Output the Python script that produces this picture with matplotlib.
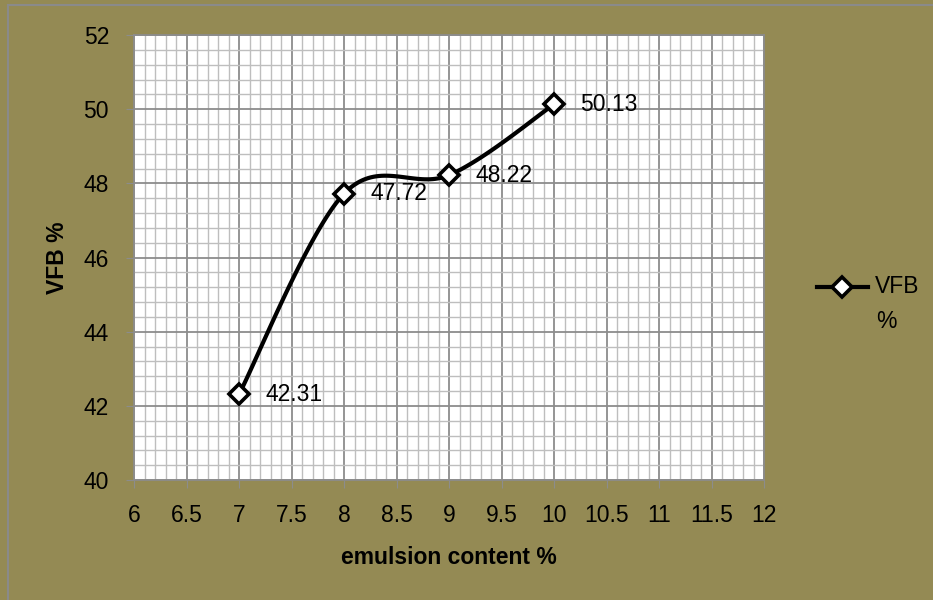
import numpy as np
import matplotlib.pyplot as plt
from matplotlib.patches import Rectangle
from matplotlib.lines import Line2D
from matplotlib.ticker import MultipleLocator, FuncFormatter

# data
emulsion = [7, 8, 9, 10]
vfb = [42.31, 47.72, 48.22, 50.13]
labels = ['42.31', '47.72', '48.22', '50.13']
xticks = [6, 6.5, 7, 7.5, 8, 8.5, 9, 9.5, 10, 10.5, 11, 11.5, 12]
yticks = [40, 42, 44, 46, 48, 50, 52]

bg = '#948A54'
fs = 16.5
plt.rcParams['font.family'] = ['Liberation Sans', 'DejaVu Sans']

fig = plt.figure(figsize=(9.33, 6), dpi=100)
fig.patch.set_facecolor(bg)
# chart frame (only left/top edge visible in the picture)
fig.patches.append(Rectangle((8 / 933, -0.1), 1.2, (1 - 5 / 600) + 0.1,
                             transform=fig.transFigure, facecolor='none',
                             edgecolor='#8a8a8a', linewidth=1.5))

ax = fig.add_axes([134 / 933, 0.2, (764 - 134) / 933, (480 - 35) / 600])
ax.set_facecolor('white')
ax.set_xlim(6, 12)
ax.set_ylim(40, 52)
ax.set_xticks(xticks)
ax.set_yticks(yticks)
ax.xaxis.set_major_formatter(FuncFormatter(lambda v, p: '%g' % v))
ax.xaxis.set_minor_locator(MultipleLocator(0.1))
ax.yaxis.set_minor_locator(MultipleLocator(0.4))
ax.grid(which='minor', color='#BEBEBE', linewidth=1.0)
ax.grid(which='major', color='#8C8C8C', linewidth=1.3)
ax.set_axisbelow(True)
for s in ax.spines.values():
    s.set_color('#8C8C8C')
    s.set_linewidth(1.3)
ax.tick_params(which='minor', length=0)
ax.tick_params(which='major', length=6, color='#8C8C8C', labelsize=fs)
ax.tick_params(axis='x', pad=11)
ax.tick_params(axis='y', pad=12)

# Excel-like smoothed line (bezier through the points, in display space)
fig.canvas.draw()
pts = ax.transData.transform(np.column_stack([emulsion, vfb]))
ext = np.vstack([pts[0], pts, pts[-1]])
curve = []
t = np.linspace(0, 1, 40)[:, None]
for i in range(len(pts) - 1):
    p0 = ext[i + 1]
    p3 = ext[i + 2]
    c1 = p0 + (ext[i + 2] - ext[i]) / 6
    c2 = p3 - (ext[i + 3] - ext[i + 1]) / 6
    seg = ((1 - t) ** 3) * p0 + 3 * ((1 - t) ** 2) * t * c1 + 3 * (1 - t) * t ** 2 * c2 + t ** 3 * p3
    curve.append(seg)
curve = ax.transData.inverted().transform(np.vstack(curve))
ax.plot(curve[:, 0], curve[:, 1], color='black', linewidth=3.0, zorder=3)
ax.plot(emulsion, vfb, linestyle='none', marker='D', markersize=10,
        markerfacecolor='white', markeredgecolor='black', markeredgewidth=2.6,
        zorder=4)

for x, y, lab in zip(emulsion, vfb, labels):
    ax.annotate(lab, (x, y), xytext=(19, 0), textcoords='offset points',
                va='center', ha='left', fontsize=fs)

ax.set_xlabel('emulsion content %', fontsize=fs, fontweight='bold', va='center')
ax.set_ylabel('VFB %', fontsize=fs, fontweight='bold', va='center', ha='center')
ax.xaxis.set_label_coords(0.5, -(558 - 480) / 445)
ax.yaxis.set_label_coords((58 - 134) / 630, 0.5)

# legend
fig.lines.append(Line2D([817 / 933, 868 / 933], [1 - 287 / 600] * 2,
                        transform=fig.transFigure, color='black', linewidth=3.0,
                        zorder=5))
fig.lines.append(Line2D([842 / 933], [1 - 287 / 600], transform=fig.transFigure,
                        linestyle='none', marker='D', markersize=10,
                        markerfacecolor='white', markeredgecolor='black',
                        markeredgewidth=2.6, zorder=6))
fig.text(875 / 933, 1 - 287 / 600, 'VFB', fontsize=fs, va='center', ha='left')
fig.text(876 / 933, 1 - 322 / 600, '%', fontsize=fs, va='center', ha='left')

plt.savefig('out.png', dpi=100, facecolor=bg)
